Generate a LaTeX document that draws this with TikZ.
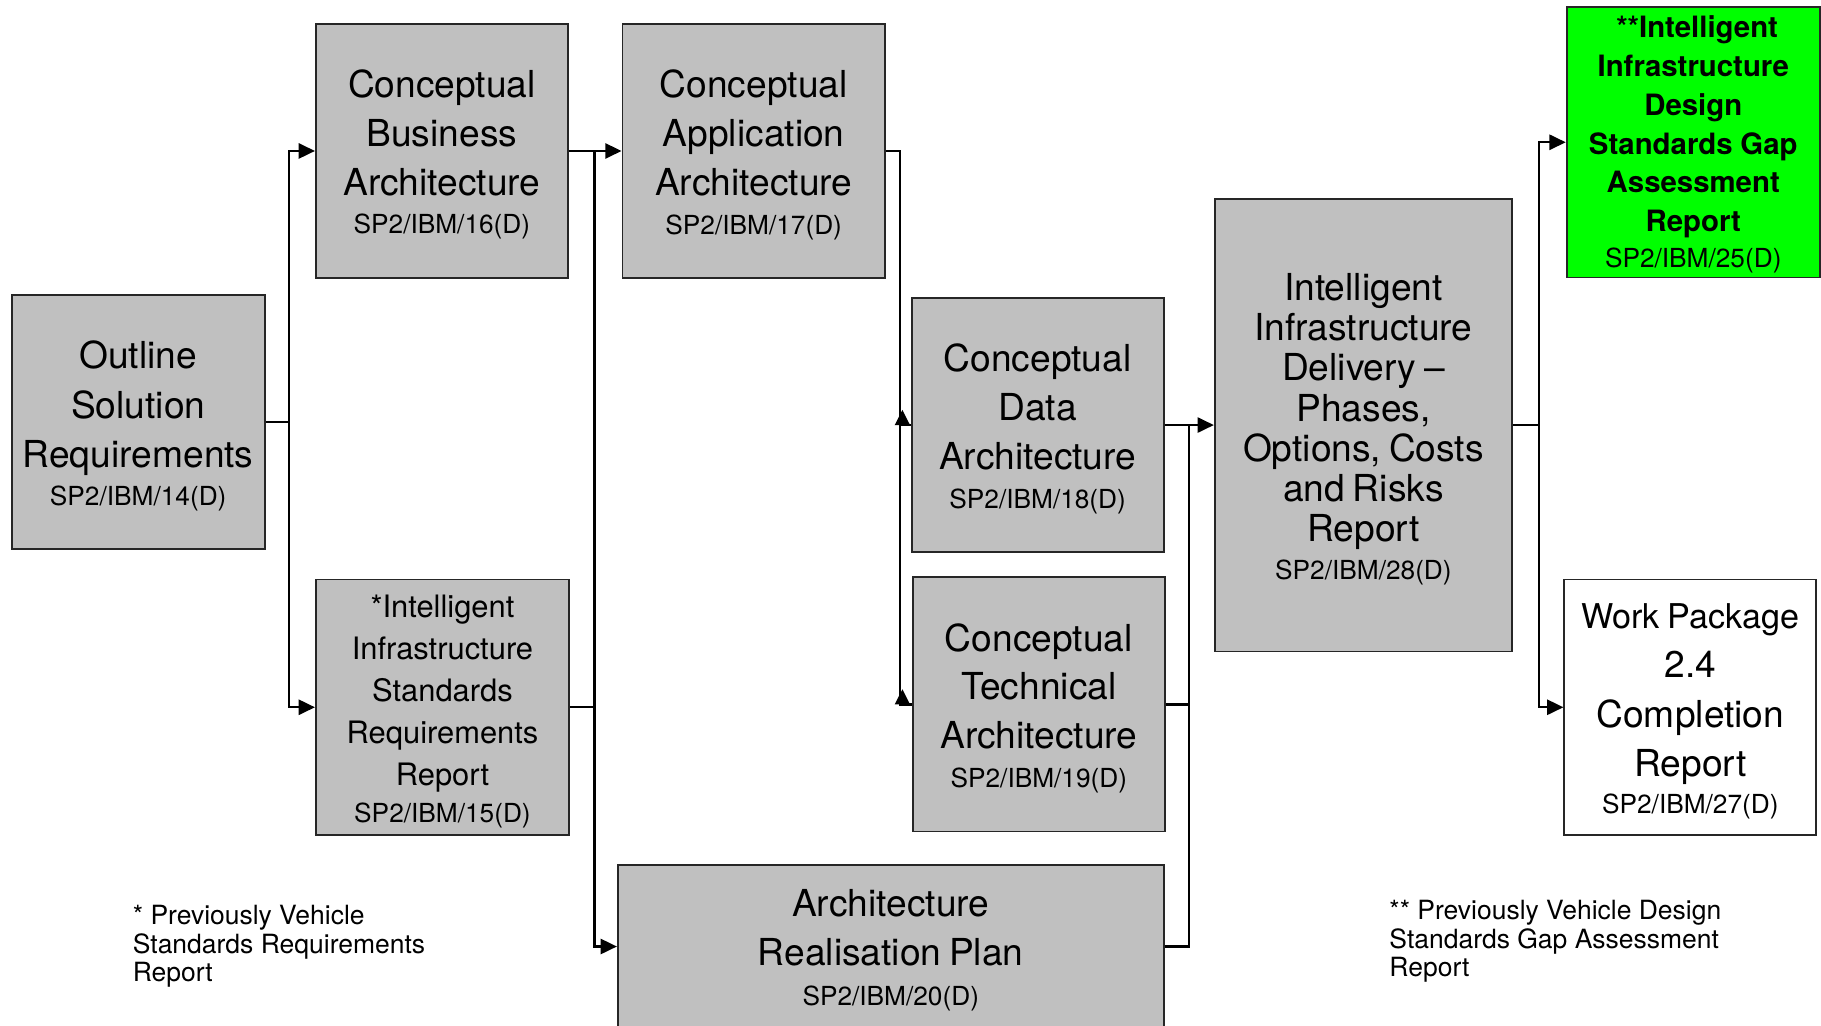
\documentclass[tikz,border=0pt]{standalone}
\usepackage{fontspec}
\setmainfont{TeX Gyre Heros}
\usetikzlibrary{arrows.meta}
\setlength{\parindent}{0pt}
\definecolor{boxgrey}{HTML}{C0C0C0}
\definecolor{boxgreen}{HTML}{00FF00}
\newcommand{\tg}[1][3.5pt]{\rule{0pt}{\dimexpr\fontcharht\font`\l+#1\relax}}
\begin{document}
\begin{tikzpicture}[x=0.5pt,y=-0.5pt,
  box/.style={draw=black!85, line width=0.8pt, fill=boxgrey, inner sep=0pt, align=center},
  conn/.style={line width=1pt, draw=black},
  arr/.style={conn, -{Triangle[length=7pt,width=6.5pt]}},
  uptip/.style={fill=black},
  note/.style={font=\fontsize{11.4}{12.3}\selectfont, align=left, inner sep=0pt, anchor=north west}]
\useasboundingbox (0,0) rectangle (1568,883);
\clip (0,0) rectangle (1568,883);

% boxes
\node[box, minimum width=109pt, minimum height=109.5pt, text width=106pt] (B14) at (119,363.5)
  {{\fontsize{16}{21.25}\selectfont\tg Outline\\Solution\\Requirements\par}{\fontsize{11.3}{16.2}\selectfont SP2/IBM/14(D)\par}};
\node[box, minimum width=108.5pt, minimum height=109.5pt, text width=105pt] (B16) at (380.5,130)
  {{\fontsize{16}{21}\selectfont\tg Conceptual\\Business\\Architecture\par}{\fontsize{11.3}{16.7}\selectfont SP2/IBM/16(D)\par}};
\node[box, minimum width=113pt, minimum height=109.5pt, text width=110pt] (B17) at (649,130)
  {{\fontsize{16}{21.25}\selectfont\tg Conceptual\\Application\\Architecture\par}{\fontsize{11.3}{16.7}\selectfont SP2/IBM/17(D)\par}};
\node[box, minimum width=109pt, minimum height=110pt, text width=106pt] (B15) at (381,609)
  {{\fontsize{13.3}{18.1}\selectfont\tg *Intelligent\\Infrastructure\\Standards\\Requirements\\Report\par}{\fontsize{11.3}{15.7}\selectfont SP2/IBM/15(D)\par}};
\node[box, minimum width=108.5pt, minimum height=109.5pt, text width=105pt] (B18) at (893.5,366)
  {{\fontsize{16}{21}\selectfont\tg Conceptual\\Data\\Architecture\par}{\fontsize{11.3}{16.7}\selectfont SP2/IBM/18(D)\par}};
\node[box, minimum width=108.5pt, minimum height=109.5pt, text width=105pt] (B19) at (894.5,606.5)
  {{\fontsize{16}{21}\selectfont\tg Conceptual\\Technical\\Architecture\par}{\fontsize{11.3}{16.7}\selectfont SP2/IBM/19(D)\par}};
\node[box, minimum width=235pt, minimum height=70pt, text width=230pt] (B20) at (767,815)
  {{\fontsize{16}{21}\selectfont\tg Architecture\\Realisation Plan\par}{\fontsize{11.3}{17.2}\selectfont SP2/IBM/20(D)\par}};
\node[box, minimum width=128pt, minimum height=195pt, text width=125pt] (B28) at (1174,366)
  {{\fontsize{16}{17.3}\selectfont\tg Intelligent\\Infrastructure\\Delivery --\\Phases,\\Options, Costs\\and Risks\\Report\par}{\fontsize{11.3}{16.2}\selectfont SP2/IBM/28(D)\par}};
\node[box, fill=boxgreen, minimum width=109pt, minimum height=116.5pt, text width=106pt] (B25) at (1458,122.5)
  {{\fontsize{12.65}{16.7}\selectfont\bfseries\tg[2pt] **Intelligent\\Infrastructure\\Design\\Standards Gap\\Assessment\\Report\par}{\fontsize{11.3}{15.3}\selectfont SP2/IBM/25(D)\par}};
\node[box, fill=white, minimum width=108.5pt, minimum height=110pt, text width=106pt] (B27) at (1455.5,609)
  {{\fontsize{16}{21.3}\selectfont {\fontsize{14.7}{21.3}\selectfont\tg Work Package}\\2.4\\Completion\\Report\par}{\fontsize{11.3}{15.9}\selectfont SP2/IBM/27(D)\par}};

% notes
\node[note] (n1) at (114,779) {* Previously Vehicle\\Standards Requirements\\Report};
\node[note] (n2) at (1196,775) {** Previously Vehicle Design\\Standards Gap Assessment\\Report};

% junction columns
\coordinate (j1) at (249,0);
\coordinate (j2) at (512,0);
\coordinate (j3) at (775,0);
\coordinate (j4) at (1024,0);
\coordinate (j5) at (1325,0);

% connectors
\draw[conn] (B14.east) -- (j1 |- B14.east);
\draw[arr] (j1 |- B14.east) |- (B16.west);
\draw[arr] (j1 |- B14.east) |- (B15.west);

\draw[arr] (B16.east) -- (B17.west);
\draw[conn] (B15.east) -| (j2 |- B16.east);
\draw[arr] (j2 |- B15.east) |- (B20.west);

\draw[conn] (B17.east) -| (j3 |- B19.west) -- (B19.west);
\draw[conn] (j3 |- B18.west) -- (B18.west);
\fill[uptip, shift={(j3 |- B18.west)}] (-2.3pt,0pt) -- (4.3pt,0pt) -- (1pt,6.5pt) -- cycle;
\fill[uptip, shift={(j3 |- B19.west)}] (-2.3pt,0pt) -- (4.3pt,0pt) -- (1pt,6.5pt) -- cycle;

\draw[arr] (B18.east) -- (B28.west);
\draw[conn] (B19.east) -| (j4 |- B18.east);
\draw[conn] (B20.east) -| (j4 |- B19.east);

\draw[conn] (B28.east) -- (j5 |- B28.east);
\draw[arr] (j5 |- B28.east) |- (B25.west);
\draw[arr] (j5 |- B28.east) |- (B27.west);
\end{tikzpicture}
\end{document}
